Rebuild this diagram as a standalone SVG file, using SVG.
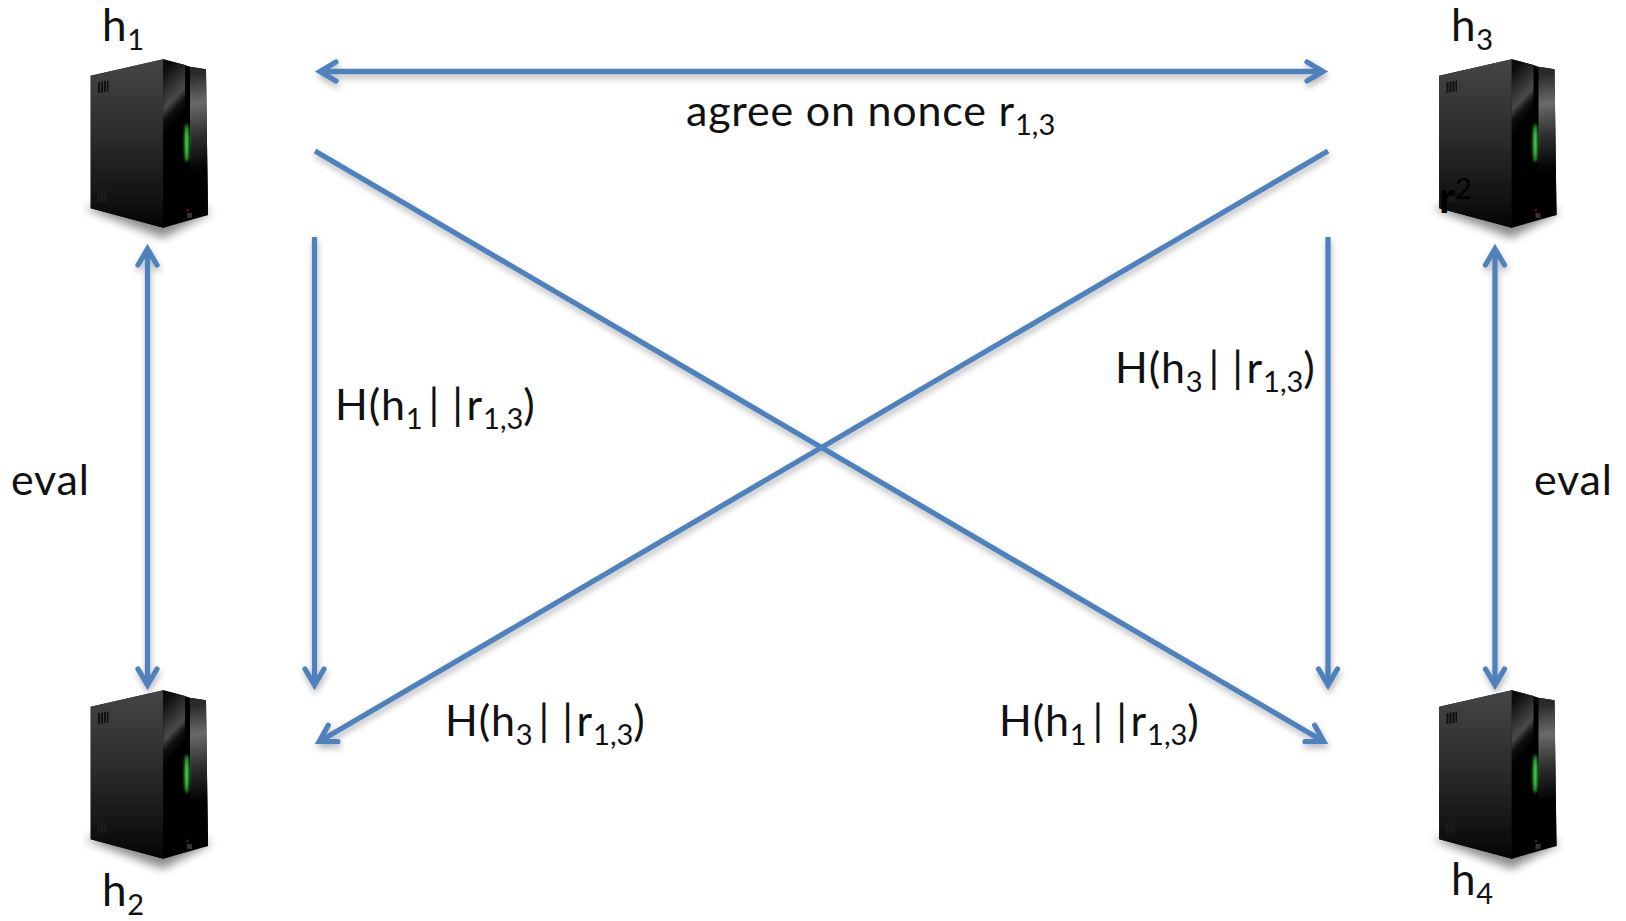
<svg xmlns="http://www.w3.org/2000/svg" width="1626" height="921" viewBox="0 0 1626 921">
<style>
.l{font-family:"Lato","Carlito","Liberation Sans",sans-serif;font-size:43px;letter-spacing:.8px;fill:#111}
.s{font-size:29px;letter-spacing:0}
.b{letter-spacing:13px}
.e{letter-spacing:3.500px}
.c{fill:none;stroke:#4f81bd;stroke-width:5.300}
</style>
<defs>
<marker id="a" viewBox="0 0 32 26" refX="23" refY="13" markerWidth="32" markerHeight="26" markerUnits="userSpaceOnUse" orient="auto-start-reverse"><path d="M7 3.500L23 13L7 22.500" fill="none" stroke="#4f81bd" stroke-width="5.300" stroke-linecap="round"/></marker>
<filter id="sh" x="-10%" y="-10%" width="120%" height="120%"><feDropShadow dx="1" dy="4" stdDeviation="3" flood-color="#000" flood-opacity=".28"/></filter>
<filter id="bl" x="-30%" y="-30%" width="160%" height="160%"><feGaussianBlur stdDeviation="5"/></filter>
<filter id="b1" x="-300%" y="-30%" width="700%" height="160%"><feGaussianBlur stdDeviation="1.800"/></filter>
<linearGradient id="f" x1="0" y1="0" x2="0" y2="1"><stop offset="0" stop-color="#454545"/><stop offset=".45" stop-color="#2c2c2c"/><stop offset=".8" stop-color="#141414"/><stop offset="1" stop-color="#050505"/></linearGradient>
<linearGradient id="s1" gradientUnits="userSpaceOnUse" x1="160" y1="75" x2="192" y2="105"><stop offset="0" stop-color="#0c0c0c"/><stop offset=".6" stop-color="#4a4a4a"/><stop offset=".78" stop-color="#101010"/><stop offset="1" stop-color="#000"/></linearGradient>
<linearGradient id="s2" gradientUnits="userSpaceOnUse" x1="190" y1="75" x2="206" y2="170"><stop offset="0" stop-color="#2a2a2a"/><stop offset=".3" stop-color="#6a6a6a"/><stop offset=".65" stop-color="#2c2c2c"/><stop offset="1" stop-color="#000"/></linearGradient>
<g id="srv">
<path d="M84 208L160 195L212 212L163 238Z" fill="#000" opacity=".45" filter="url(#bl)"/>
<path d="M90.700 75.700L163.300 59.300L185 65L190 66.700L206 69.300L208 215L163.300 227.700L90.700 208.300Z" fill="#000"/>
<path d="M90.700 75.700L163.300 59.300V227.700L90.700 208.300Z" fill="url(#f)"/>
<path d="M163.300 59.300L185 65V220L163.300 227.700Z" fill="url(#s1)"/>
<path d="M190 66.700L206 69.300L208 215L190 218Z" fill="url(#s2)"/>
<ellipse cx="186.700" cy="143" rx="2" ry="19" fill="#46ee4e" filter="url(#b1)"/>
<path d="M98 82h2v11h-2zM101 81.500h2v11h-2zM104 81h2v11h-2zM107 80.500h1.500v11h-1.500z" fill="#111"/>
<path d="M98 191h2v11h-2zM101 191h2v11h-2zM104 191h2v11h-2z" fill="#1c1c1c"/>
<circle cx="187.500" cy="210" r="1.500" fill="#5a1010"/><path d="M187 213h5v5h-5z" fill="#333"/>
</g>
</defs>
<rect width="1626" height="921" fill="#fff"/>
<g id="h1"><use href="#srv"/><text class="l" x="102" y="41" style="font-size:44px">h<tspan class="s" dy="9">1</tspan></text></g>
<g id="h3"><use href="#srv" x="1348.500"/><text class="l" x="1451" y="41" style="font-size:44px">h<tspan class="s" dy="9">3</tspan></text><text class="l" x="1439" y="213" style="fill:#000;font-weight:700;letter-spacing:0">r<tspan class="s" style="font-weight:400" dy="-14">2</tspan></text></g>
<g id="h2"><use href="#srv" x="0" y="631"/><text class="l" x="102" y="906" style="font-size:44px">h<tspan class="s" dy="9">2</tspan></text></g>
<g id="h4"><use href="#srv" x="1348.500" y="631"/><text class="l" x="1451" y="895" style="font-size:44px">h<tspan class="s" dy="9">4</tspan></text></g>
<g id="connectors" filter="url(#sh)">
<line class="c" x1="320" y1="71.500" x2="1323" y2="71.500" marker-start="url(#a)" marker-end="url(#a)"/>
<line class="c" x1="315" y1="151" x2="1323.700" y2="741.500" marker-end="url(#a)"/>
<line class="c" x1="1328" y1="151" x2="319.300" y2="741.500" marker-end="url(#a)"/>
<line class="c" x1="314.500" y1="237" x2="314.500" y2="685" marker-end="url(#a)"/>
<line class="c" x1="1328" y1="237" x2="1328" y2="685" marker-end="url(#a)"/>
<line class="c" x1="147.500" y1="249" x2="147.500" y2="685" marker-start="url(#a)" marker-end="url(#a)"/>
<line class="c" x1="1495" y1="249" x2="1495" y2="685" marker-start="url(#a)" marker-end="url(#a)"/>
</g>
<g id="labels">
<text class="l" x="686" y="126">agree on nonce r<tspan class="s" dy="9">1,3</tspan></text>
<text class="l" x="335" y="420">H(h<tspan class="s" dy="9">1</tspan><tspan class="b" dx="6" dy="-9">|</tspan><tspan class="e">|</tspan><tspan>r</tspan><tspan class="s" dy="9">1,3</tspan><tspan dy="-9">)</tspan></text>
<text class="l" x="1115" y="383">H(h<tspan class="s" dy="9">3</tspan><tspan class="b" dx="6" dy="-9">|</tspan><tspan class="e">|</tspan><tspan>r</tspan><tspan class="s" dy="9">1,3</tspan><tspan dy="-9">)</tspan></text>
<text class="l" x="445" y="736">H(h<tspan class="s" dy="9">3</tspan><tspan class="b" dx="6" dy="-9">|</tspan><tspan class="e">|</tspan><tspan>r</tspan><tspan class="s" dy="9">1,3</tspan><tspan dy="-9">)</tspan></text>
<text class="l" x="999" y="736">H(h<tspan class="s" dy="9">1</tspan><tspan class="b" dx="6" dy="-9">|</tspan><tspan class="e">|</tspan><tspan>r</tspan><tspan class="s" dy="9">1,3</tspan><tspan dy="-9">)</tspan></text>
<text class="l" x="11" y="495">eval</text>
<text class="l" x="1534" y="495">eval</text>
</g>
</svg>
